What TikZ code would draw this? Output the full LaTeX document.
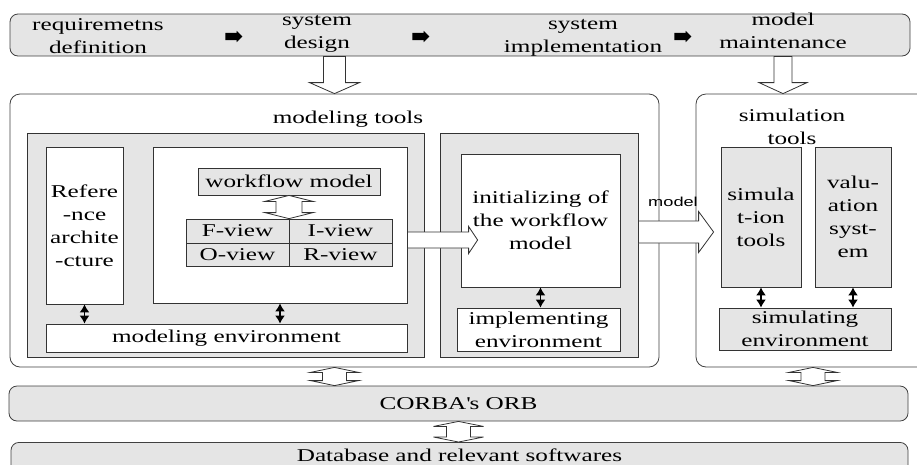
\documentclass[tikz,border=0pt]{standalone}
\usepackage{fontspec}
\setmainfont{Liberation Serif}[FakeStretch=1.4]
\newfontfamily\labelfont{Liberation Sans}[FakeStretch=1.4]
\usetikzlibrary{arrows.meta,calc,shapes.arrows}

% hollow block arrows: from, to, head half width, shaft half width, head length
\newcommand{\vsingle}[5]{%
  \draw[hollow] let \p1=(#1), \p2=(#2) in
    (\x1-#4pt,\y1) -- (\x1-#4pt,\y2+#5pt) -- (\x1-#3pt,\y2+#5pt) -- (\x1,\y2)
    -- (\x1+#3pt,\y2+#5pt) -- (\x1+#4pt,\y2+#5pt) -- (\x1+#4pt,\y1) -- cycle;}
\newcommand{\vdouble}[5]{%
  \draw[hollow] let \p1=(#1), \p2=(#2) in
    (\x1,\y1) -- (\x1+#3pt,\y1-#5pt) -- (\x1+#4pt,\y1-#5pt) -- (\x1+#4pt,\y2+#5pt)
    -- (\x1+#3pt,\y2+#5pt) -- (\x1,\y2) -- (\x1-#3pt,\y2+#5pt) -- (\x1-#4pt,\y2+#5pt)
    -- (\x1-#4pt,\y1-#5pt) -- (\x1-#3pt,\y1-#5pt) -- cycle;}
\newcommand{\hsingle}[5]{%
  \draw[hollow] let \p1=(#1), \p2=(#2) in
    (\x1,\y1+#4pt) -- (\x2-#5pt,\y1+#4pt) -- (\x2-#5pt,\y1+#3pt) -- (\x2,\y1)
    -- (\x2-#5pt,\y1-#3pt) -- (\x2-#5pt,\y1-#4pt) -- (\x1,\y1-#4pt) -- cycle;}

\begin{document}
\begin{tikzpicture}[
  x=1pt, y=1pt,
  font=\fontsize{18}{23}\selectfont,
  bar/.style={draw=black!75, fill=black!10, rounded corners=8pt, line width=0.8pt, inner sep=0pt},
  frame/.style={draw=black!75, fill=white, rounded corners=10pt, line width=0.8pt, inner sep=0pt},
  panel/.style={draw=black!80, fill=black!10, line width=0.8pt, inner sep=0pt},
  box/.style={draw=black!80, fill=white, line width=0.8pt, inner sep=0pt, align=center},
  gbox/.style={box, fill=black!10},
  txt/.style={align=center, inner sep=0pt},
  link/.style={{Latex[length=8pt,width=10pt]}-{Latex[length=8pt,width=10pt]}, line width=1.5pt},
  hollow/.style={draw=black!80, fill=white, line width=0.8pt},
  blk/.style={single arrow, fill=black, inner sep=3.5pt, minimum height=17pt,
    single arrow head extend=2pt},
]
\useasboundingbox (0,0) rectangle (917,-464);
\clip (0,0) rectangle (917,-464);

% Life cycle bar
\node[bar, minimum width=900pt, minimum height=42pt] (topbar) at (460,-35) {};
\node[txt] (req) at (98,-36) {requiremetns\\definition};
\node[txt] (des) at (317,-34) {system\\design};
\node[txt] (impl) at (583,-38) {system\\implementation};
\node[txt] (maint) at (783,-31) {model\\maintenance};
\node[blk] (s1) at (232,-36.5) {};
\node[blk] (s2) at (419,-36.5) {};
\node[blk] (s3) at (681,-36.5) {};

% Modeling tools
\node[frame, minimum width=649pt, minimum height=273pt] (modtools) at (334.5,-230.5) {};
\node[txt] (modlbl) at (348,-119) {modeling tools};
\node[panel, minimum width=397pt, minimum height=224pt] (pnl1) at (225.5,-245) {};
\node[box, minimum width=77pt, minimum height=157pt] (ref) at (84.5,-225.5) {Refere\\-nce\\archite\\-cture};
\node[box, minimum width=254pt, minimum height=156pt] (views) at (280,-225) {};
\node[gbox, minimum width=182pt, minimum height=27pt] (wfm) at (289,-181.5) {workflow model};
\foreach \n/\x/\y/\h/\t in {fv/237.5/-231/24/F-view, iv/340.5/-231/24/I-view,
                            ov/237.5/-254.5/23/O-view, rv/340.5/-254.5/23/R-view}{
  \node[gbox, minimum width=103pt, minimum height=\h pt] (\n) at (\x,\y) {\t};
}
\node[box, minimum width=361pt, minimum height=28pt] (modenv) at (226.5,-338) {modeling environment};
\node[panel, minimum width=198pt, minimum height=224pt] (pnl2) at (539,-245) {};
\node[box, minimum width=159pt, minimum height=133pt] (init) at (540.5,-220.5) {initializing of\\the workflow\\model};
\node[box, minimum width=163pt, minimum height=43pt] (implenv) at (538.5,-329.5) {implementing\\environment};

% Simulation tools
\node[frame, minimum width=234pt, minimum height=273pt] (simtools) at (813,-230.5) {};
\node[txt] (simlbl) at (792,-126.5) {simulation\\tools};
\node[gbox, minimum width=80pt, minimum height=140pt] (simt) at (761,-217) {simula\\t-ion\\tools};
\node[gbox, minimum width=76pt, minimum height=140pt] (val) at (853,-217) {valu-\\ation\\syst-\\em};
\node[gbox, minimum width=172pt, minimum height=42pt] (simenv) at (805,-329) {simulating\\environment};

% CORBA and database
\node[bar, minimum width=899pt, minimum height=35pt] (corba) at (458.5,-403.5) {CORBA\textquotesingle s ORB};
\node[bar, anchor=north, minimum width=897pt, text height=17pt, text depth=21pt, inner ysep=2pt]
  (db) at (459.5,-442) {Database and relevant softwares};

% Environment links
\draw[link] (ref.south) -- (ref.south |- modenv.north);
\draw[link] (views.south) -- (views.south |- modenv.north);
\draw[link] (init.south) -- (init.south |- implenv.north);
\draw[link] (simt.south) -- (simt.south |- simenv.north);
\draw[link] (val.south) -- (val.south |- simenv.north);

% Block arrows
\vsingle{topbar.south -| modtools.north}{modtools.north}{25}{11}{11}
\vsingle{topbar.south -| maint.south}{simtools.north -| maint.south}{24}{9}{11}
\vdouble{wfm.south}{fv.north -| wfm.south}{24}{13}{6}
\hsingle{[yshift=-15pt]views.east}{[xshift=17pt]init.west}{13.5}{8}{9}
\hsingle{[yshift=13pt]pnl2.east}{[xshift=-7pt]simt.west}{20.5}{11}{15}
\node[font=\labelfont\fontsize{13}{15}\selectfont, inner sep=0pt] (mdl) at (673,-202) {model};
\vdouble{modtools.south}{corba.north -| modtools.south}{24}{12}{5}
\vdouble{simtools.south}{corba.north -| simtools.south}{24}{12}{5}
\vdouble{corba.south}{db.north}{25}{12}{5}

\end{tikzpicture}
\end{document}
